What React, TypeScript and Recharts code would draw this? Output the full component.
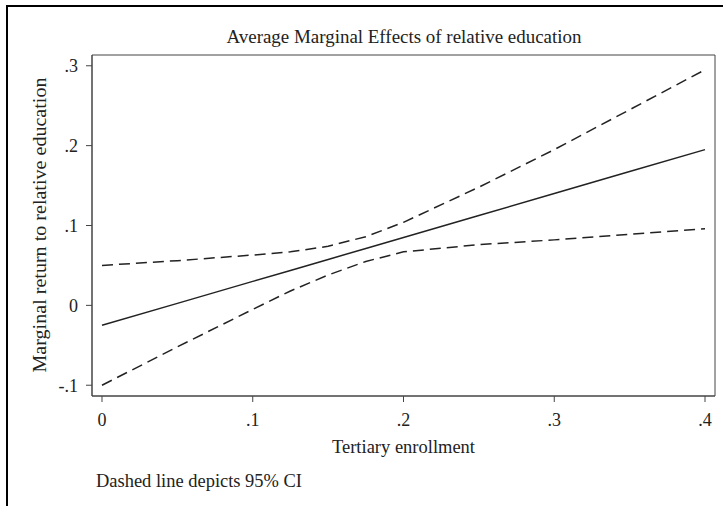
import { LineChart, Line, XAxis, YAxis, Label, ReferenceArea } from "recharts";

const enrollment = [0, 0.05, 0.1, 0.125, 0.15, 0.175, 0.2, 0.25, 0.3, 0.35, 0.4];
const marginalEffect = [-0.025, 0.0025, 0.03, 0.04375, 0.0575, 0.07125, 0.085, 0.1125, 0.14, 0.1675, 0.195];
const upperCI = [0.05, 0.056, 0.063, 0.067, 0.074, 0.086, 0.104, 0.148, 0.195, 0.245, 0.295];
const lowerCI = [-0.1, -0.052, -0.005, 0.018, 0.038, 0.055, 0.067, 0.076, 0.082, 0.089, 0.096];

const xTicks = [0, 0.1, 0.2, 0.3, 0.4];
const yTicks = [-0.1, 0, 0.1, 0.2, 0.3];

const X_DOMAIN: [number, number] = [-0.00663, 0.40663];
const Y_DOMAIN: [number, number] = [-0.1135, 0.3135];

const data = enrollment.map((x, i) => ({
  x,
  me: marginalEffect[i],
  hi: upperCI[i],
  lo: lowerCI[i],
}));

const FONT = "'Liberation Serif', 'Times New Roman', serif";
const INK = "#222";
const FRAME = "#444";

// stata style: drop the leading zero, keep a minus
const fmt = (v: number) => {
  if (Math.abs(v) < 1e-9) return "0";
  const s = String(Math.round(v * 10) / 10);
  return s.replace("0.", ".");
};

const tickStyle = { fontSize: 18, fill: INK, fontFamily: FONT };

export default function App() {
  return (
    <div style={{ position: "absolute", left: 0, top: 0, width: 723, height: 506, overflow: "hidden", background: "#fff" }}>
      <div
        style={{
          position: "absolute",
          left: 6,
          top: 5,
          width: 900,
          height: 700,
          borderTop: "2px solid #000",
          borderLeft: "2px solid #000",
        }}
      />
      <div style={{ position: "absolute", left: 0, top: 0 }}>
        <LineChart width={723} height={506} data={data} margin={{ top: 55, right: 8, bottom: 60, left: 0 }}>
          <XAxis
            dataKey="x"
            type="number"
            domain={X_DOMAIN}
            ticks={xTicks}
            tickFormatter={fmt}
            tick={tickStyle}
            tickSize={6}
            tickMargin={11}
            stroke={FRAME}
            height={50}
            allowDataOverflow
          >
            <Label
              content={({ viewBox }: any) => (
                <text
                  x={viewBox.x + viewBox.width / 2}
                  y={453}
                  textAnchor="middle"
                  fontSize={18}
                  textLength={143}
                  lengthAdjust="spacingAndGlyphs"
                  fill={INK}
                  fontFamily={FONT}
                >
                  Tertiary enrollment
                </text>
              )}
            />
          </XAxis>
          <YAxis
            type="number"
            domain={Y_DOMAIN}
            ticks={yTicks}
            tickFormatter={fmt}
            tick={tickStyle}
            tickSize={6}
            tickMargin={8}
            stroke={FRAME}
            width={92}
            allowDataOverflow
          >
            <Label
              content={() => (
                <text
                  x={46}
                  y={225}
                  transform="rotate(-90 46 225)"
                  textAnchor="middle"
                  fontSize={18}
                  textLength={295}
                  lengthAdjust="spacingAndGlyphs"
                  fill={INK}
                  fontFamily={FONT}
                >
                  Marginal return to relative education
                </text>
              )}
            />
          </YAxis>
          <ReferenceArea
            x1={X_DOMAIN[0]}
            x2={X_DOMAIN[1]}
            y1={Y_DOMAIN[0]}
            y2={Y_DOMAIN[1]}
            fill="none"
            stroke={FRAME}
            strokeWidth={1}
            ifOverflow="visible"
          />
          <Line dataKey="hi" type="linear" stroke={INK} strokeWidth={1.5} strokeDasharray="11 6" dot={false} isAnimationActive={false} />
          <Line dataKey="lo" type="linear" stroke={INK} strokeWidth={1.5} strokeDasharray="11 6" dot={false} isAnimationActive={false} />
          <Line dataKey="me" type="linear" stroke={INK} strokeWidth={1.5} dot={false} isAnimationActive={false} />
          <text x={404} y={43} textAnchor="middle" fontSize={18} textLength={355} lengthAdjust="spacingAndGlyphs" fill={INK} fontFamily={FONT}>
            Average Marginal Effects of relative education
          </text>
          <text x={96} y={487} fontSize={18} textLength={206} lengthAdjust="spacingAndGlyphs" fill={INK} fontFamily={FONT}>
            Dashed line depicts 95% CI
          </text>
        </LineChart>
      </div>
    </div>
  );
}
